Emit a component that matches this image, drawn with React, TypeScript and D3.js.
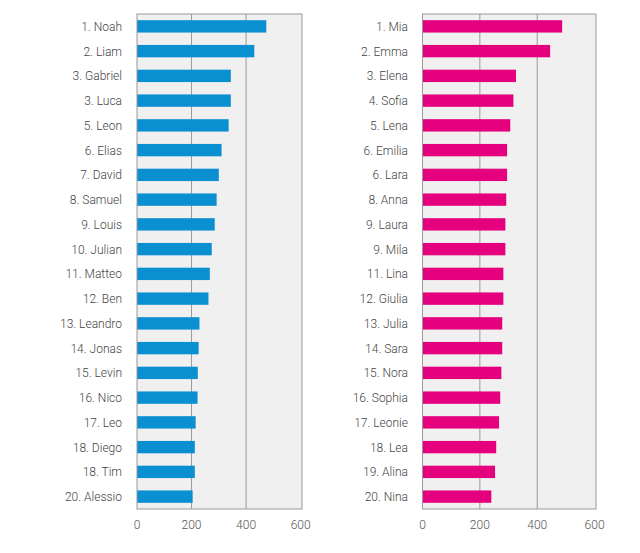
import React from "react";
import * as d3 from "d3";

const boyNames = ["1. Noah","2. Liam","3. Gabriel","3. Luca","5. Leon","6. Elias","7. David","8. Samuel","9. Louis","10. Julian","11. Matteo","12. Ben","13. Leandro","14. Jonas","15. Levin","16. Nico","17. Leo","18. Diego","18. Tim","20. Alessio"];
const boyValues = [474,430,344,344,336,310,300,292,285,274,267,262,229,226,223,222,215,212,212,204];
const girlNames = ["1. Mia","2. Emma","3. Elena","4. Sofia","5. Lena","6. Emilia","6. Lara","8. Anna","9. Laura","9. Mila","11. Lina","12. Giulia","13. Julia","14. Sara","15. Nora","16. Sophia","17. Leonie","18. Lea","19. Alina","20. Nina"];
const girlValues = [487,445,326,317,306,295,295,292,289,289,282,282,278,278,275,271,267,257,253,240];
const xTicks = [0,200,400,600];

const FONT = "Roboto, 'Noto Sans', sans-serif";

function Panel({ names, values, color, left, right, labelX }: { names: string[]; values: number[]; color: string; left: number; right: number; labelX: number }) {
  const top = 14, bottom = 509;
  const x = d3.scaleLinear().domain([0, 605]).range([left, right]);
  const y = d3.scaleBand<string>().domain(names).range([top, bottom]).paddingInner(0.5).paddingOuter(0.25);
  return (
    <g>
      <rect x={left} y={top} width={right - left} height={bottom - top} fill="#f0f0f0" />
      {xTicks.slice(1, 3).map((t) => (
        <line key={t} x1={x(t)} x2={x(t)} y1={top} y2={bottom} stroke="#9a9a9a" strokeWidth={1} />
      ))}
      {names.map((n, i) => (
        <rect key={n} x={x(0)} y={y(n)!} width={x(values[i]) - x(0)} height={y.bandwidth()} fill={color} />
      ))}
      <rect x={left} y={top} width={right - left} height={bottom - top} fill="none" stroke="#9a9a9a" strokeWidth={1} />
      {names.map((n) => (
        <text key={n} x={labelX} y={y(n)! + y.bandwidth() / 2 + 0.5} textAnchor="end" dominantBaseline="central" fontSize={12} fontWeight={300} fill="#444" fontFamily={FONT}>{n}</text>
      ))}
      {xTicks.map((t) => (
        <text key={t} x={x(t)} y={525} textAnchor="middle" dominantBaseline="central" fontSize={12} fontWeight={300} fill="#555" fontFamily={FONT}>{t}</text>
      ))}
    </g>
  );
}

export default function App() {
  return (
    <svg width={640} height={553} style={{ position: "absolute", left: 0, top: 0, background: "#fff" }}>
      <Panel names={boyNames} values={boyValues} color="#0a8fd1" left={137} right={302} labelX={122} />
      <Panel names={girlNames} values={girlValues} color="#e5007d" left={422.5} right={596} labelX={408} />
    </svg>
  );
}
